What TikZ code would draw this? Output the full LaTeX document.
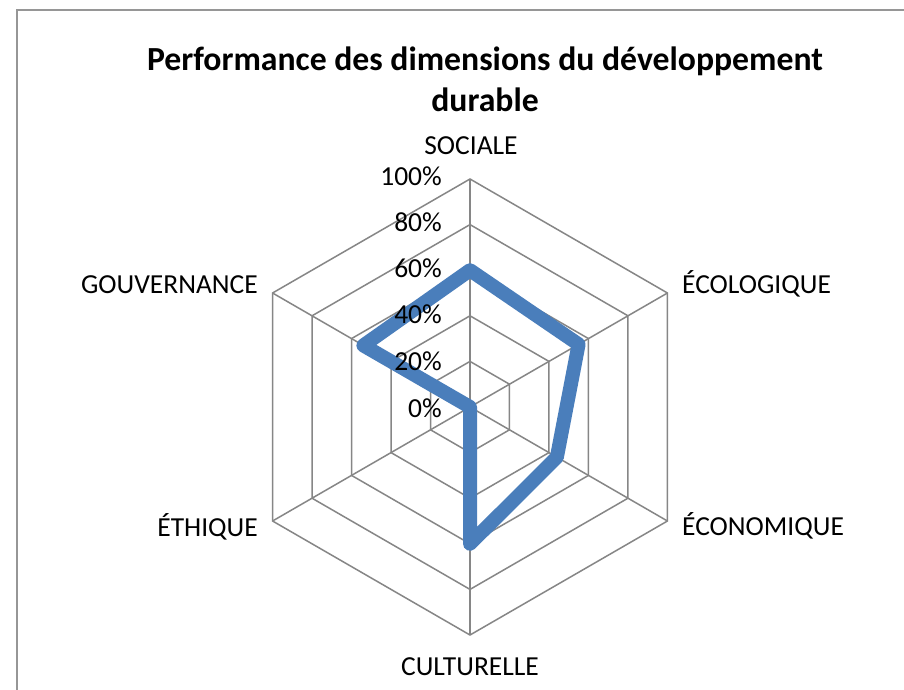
\documentclass[tikz,border=0pt]{standalone}
\usepackage{fontspec}
\setmainfont{Carlito}
\definecolor{gridgray}{RGB}{134,134,134}
\definecolor{framegray}{RGB}{150,150,150}
\definecolor{seriesblue}{RGB}{74,126,187}
\begin{document}
\begin{tikzpicture}[x=1pt,y=-1pt,
  gridline/.style={draw=gridgray, line width=1.5pt},
  axislabel/.style={font=\fontsize{27.5}{32}\selectfont, inner sep=0pt},
  ticklabel/.style={font=\fontsize{27.5}{32}\selectfont, inner sep=0pt, anchor=base east},
  titletext/.style={font=\fontsize{33.7}{40}\selectfont\bfseries, inner sep=0pt, anchor=base},
  series/.style={draw=seriesblue, line width=14pt, line join=round, line cap=round}]
\useasboundingbox (0,0) rectangle (904,690);
\fill[white] (0,0) rectangle (904,690);
% chart frame (only top and left edges visible)
\draw[framegray, line width=2pt] (17,690) -- (17,10) -- (904,10);
% title
\node[titletext] (title1) at (485,71) {Performance des dimensions du développement};
\node[titletext] (title2) at (485,112) {durable};
\begin{scope}[shift={(470,407)}]
  \coordinate (O) at (0,0);
  % grid rings
  \foreach \k in {1,...,5} {
    \draw[gridline] (-90:\k*45.6) -- (-30:\k*45.6) -- (30:\k*45.6) -- (90:\k*45.6) -- (150:\k*45.6) -- (210:\k*45.6) -- cycle;
  }
  % spokes
  \foreach \a/\n in {-90/s,-30/eco,30/econ,90/cul,150/eth,210/gov} {
    \coordinate (\n) at (\a:228);
    \draw[gridline] (O) -- (\n);
  }
  % data points
  \coordinate (d1) at (-90:0.60*228);
  \coordinate (d2) at (-30:0.55*228);
  \coordinate (d3) at (30:0.44*228);
  \coordinate (d4) at (90:0.60*228);
  \coordinate (d5) at (0,0);
  \coordinate (d6) at (210:0.54*228);
  \draw[series] (d1) -- (d2) -- (d3) -- (d4) -- (d5) -- (d6) -- cycle;
\end{scope}
% tick labels
\node[ticklabel] (t100) at (442,185) {100\%};
\node[ticklabel] (t80) at (442,231) {80\%};
\node[ticklabel] (t60) at (442,277) {60\%};
\node[ticklabel] (t40) at (442,323) {40\%};
\node[ticklabel] (t20) at (442,370) {20\%};
\node[ticklabel] (t0) at (442,417) {0\%};
% category labels
\node[axislabel, anchor=base] (lsoc) at (471,154) {SOCIALE};
\node[axislabel, anchor=base west] (leco) at (682,293) {ÉCOLOGIQUE};
\node[axislabel, anchor=base west] (lecon) at (682,535) {ÉCONOMIQUE};
\node[axislabel, anchor=base] (lcul) at (470,675) {CULTURELLE};
\node[axislabel, anchor=base east] (leth) at (258,536) {ÉTHIQUE};
\node[axislabel, anchor=base east] (lgov) at (258,293) {GOUVERNANCE};
\end{tikzpicture}
\end{document}
